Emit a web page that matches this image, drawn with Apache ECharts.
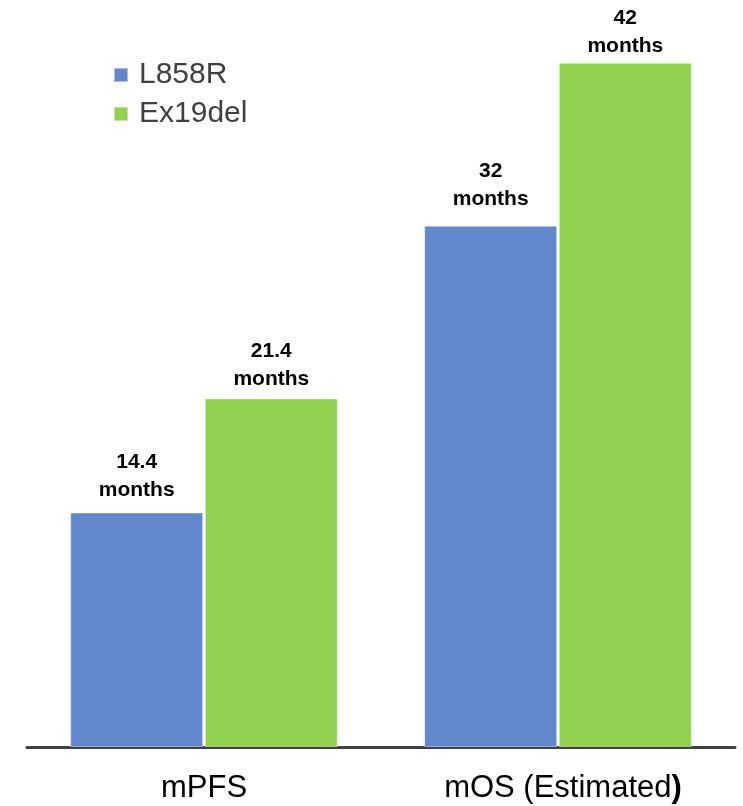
<!DOCTYPE html>
<html>
<head>
<meta charset="utf-8">
<script src="https://cdn.jsdelivr.net/npm/echarts@6/dist/echarts.min.js"></script>
<style>
  html, body { margin: 0; padding: 0; background: #fff; }
  #chart { width: 743px; height: 806px; }
</style>
</head>
<body>
<div id="chart"></div>
<script>
// Median survival by EGFR mutation type (months)
const categories = ['mPFS', 'mOS (Estimated)'];
const seriesNames = ['L858R', 'Ex19del'];
const l858rValues = [14.4, 32];
const ex19delValues = [21.4, 42];
const colors = ['#6187CD', '#92D050'];

// gap between each bar top and its value label
const l858rLabelGap = [8, 13];
const ex19delLabelGap = [5, 3];

const chart = echarts.init(document.getElementById('chart'));
const font = '"Liberation Sans", Arial, sans-serif';

function barData(values, gaps) {
  return values.map((v, i) => ({
    value: v,
    label: {
      show: true,
      position: 'top',
      distance: gaps[i],
      formatter: p => p.value + '\nmonths',
      color: '#000',
      fontFamily: font,
      fontWeight: 'bold',
      fontSize: 21,
      lineHeight: 28
    }
  }));
}

chart.setOption({
  animation: false,
  grid: { left: 27, right: 8, top: 14, bottom: 59, containLabel: false },
  legend: {
    orient: 'vertical',
    left: 113,
    top: 60,
    padding: 0,
    icon: 'rect',
    itemWidth: 14,
    itemHeight: 14,
    itemGap: 9,
    data: seriesNames,
    textStyle: { fontFamily: font, fontSize: 30, lineHeight: 30, color: '#404040', padding: [0, 0, 0, 6] }
  },
  xAxis: {
    type: 'category',
    data: categories,
    axisLine: { lineStyle: { color: '#404040', width: 3 } },
    axisTick: { show: false },
    axisLabel: {
      interval: 0,
      margin: 26,
      fontFamily: font,
      fontSize: 31,
      lineHeight: 30,
      color: '#000',
      formatter: v => v.endsWith(')') ? '{sp|}{n|' + v.slice(0, -1) + '}{b|)}' : '{n|' + v + '}',
      rich: {
        sp: { width: 10 },
        n: { fontFamily: font, fontSize: 31, color: '#000' },
        b: { fontFamily: font, fontSize: 31, fontWeight: 'bold', color: '#000' }
      }
    }
  },
  yAxis: {
    type: 'value',
    min: 0,
    max: 45,
    show: false,
    splitLine: { show: false }
  },
  series: [
    {
      name: seriesNames[0],
      type: 'bar',
      data: barData(l858rValues, l858rLabelGap),
      barWidth: 133,
      barGap: '1.2%',
      itemStyle: { color: colors[0], borderColor: 'rgba(255,255,255,0.45)', borderWidth: 1 }
    },
    {
      name: seriesNames[1],
      type: 'bar',
      data: barData(ex19delValues, ex19delLabelGap),
      barWidth: 133,
      itemStyle: { color: colors[1], borderColor: 'rgba(255,255,255,0.45)', borderWidth: 1 }
    }
  ]
});
</script>
</body>
</html>
